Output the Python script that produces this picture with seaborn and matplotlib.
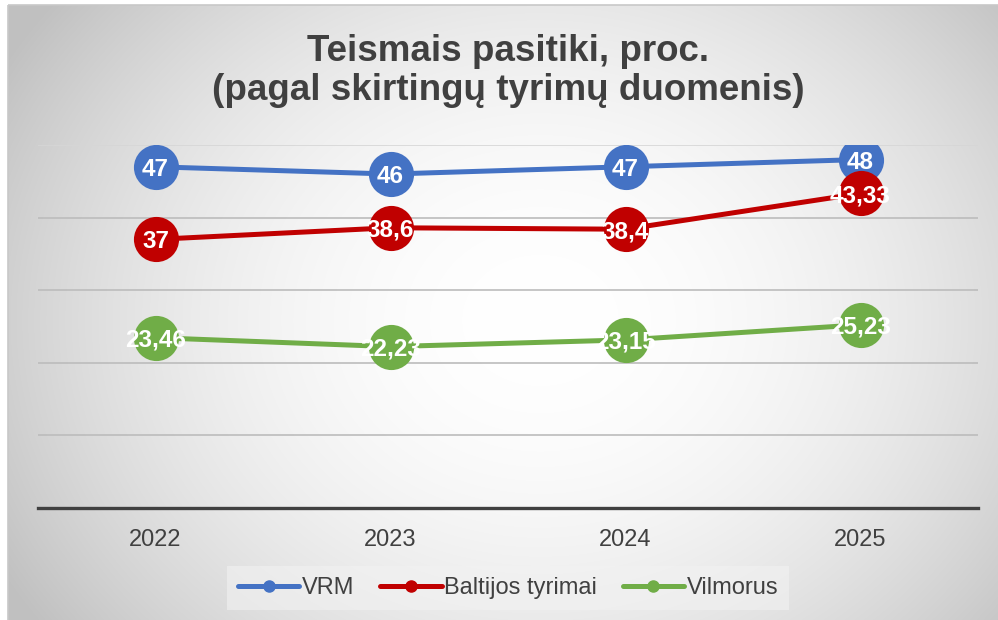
import numpy as np
import pandas as pd
import seaborn as sns
import matplotlib
matplotlib.use("Agg")
import matplotlib.pyplot as plt
from matplotlib.patches import Rectangle
from matplotlib.lines import Line2D

# ---- data ----
years = ["2022", "2023", "2024", "2025"]
series_names = ["VRM", "Baltijos tyrimai", "Vilmorus"]
vrm = [47, 46, 47, 48]
baltijos = [37, 38.6, 38.4, 43.33]
vilmorus = [23.46, 22.23, 23.15, 25.23]
colors = ["#4472C4", "#C00000", "#70AD47"]
title = "Teismais pasitiki, proc.\n(pagal skirtingų tyrimų duomenis)"

def fmt(v):
    s = f"{v:.2f}".rstrip("0").rstrip(".")
    return s.replace(".", ",")

rows = []
for name, vals in zip(series_names, [vrm, baltijos, vilmorus]):
    for i, (y, v) in enumerate(zip(years, vals)):
        rows.append({"pos": i, "year": y, "value": v, "series": name})
df = pd.DataFrame(rows)

sns.set_theme(style="white")
plt.rcParams["font.family"] = ["Liberation Sans", "DejaVu Sans"]

W, H = 998, 620
fig = plt.figure(figsize=(W / 100, H / 100), dpi=100)
fig.patch.set_facecolor("white")

# background radial gradient
bg = fig.add_axes([0, 0, 1, 1], zorder=-10)
xx, yy = np.meshgrid(np.arange(W), np.arange(H))
d2 = ((xx - 540) / 620.0) ** 2 + ((yy - 320) / 520.0) ** 2
d2 = np.clip(d2, 0, 1)
g = (255 - 63 * d2) / 255.0
img = np.dstack([g, g, g])
img[:5, :, :] = 1.0
img[:, :8, :] = 1.0
bg.imshow(img, extent=[0, W, H, 0], aspect="auto", interpolation="bilinear")
bg.set_xlim(0, W)
bg.set_ylim(H, 0)
bg.axis("off")
bg.add_patch(Rectangle((8, 5), W, H, fill=False, edgecolor="#c8c8c8", linewidth=1.2))

ax = fig.add_axes([38 / W, 1 - 508 / H, 940 / W, (508 - 145) / H])
ax.set_facecolor("none")

sns.lineplot(data=df, x="pos", y="value", hue="series", hue_order=series_names,
             palette=colors, marker="o", markersize=32.5, markeredgewidth=0,
             linewidth=3.6, legend=False, ax=ax, zorder=3)

for _, r in df.iterrows():
    ax.text(r["pos"], r["value"], fmt(r["value"]), ha="center", va="center_baseline",
            color="white", fontsize=17.5, fontweight="bold", zorder=10)

ax.set_xlim(-0.5, len(years) - 0.5)
ax.set_ylim(0, 50)
ax.set_yticks([0, 10, 20, 30, 40, 50])
ax.set_yticklabels([])
ax.tick_params(axis="y", length=0)
ax.set_xticks(range(len(years)))
ax.set_xticklabels(years, fontsize=17, color="#404040")
ax.tick_params(axis="x", length=0, pad=15)
ax.set_xlabel("")
ax.set_ylabel("")
ax.grid(axis="y", color="#bcbcbc", linewidth=1.2)
ax.grid(axis="x", visible=False)
gl = ax.get_ygridlines()
gl[-1].set_color("#d6d6d6")
for s in ["top", "right", "left"]:
    ax.spines[s].set_visible(False)
ax.spines["bottom"].set_color("#404040")
ax.spines["bottom"].set_linewidth(2.4)
ax.spines["bottom"].set_zorder(4)

fig.text(508 / W, 1 - 71 / H, title, ha="center", va="center", fontsize=26.5,
         fontweight="bold", color="#404040", linespacing=1.15)

handles = [Line2D([0], [0], color=c, linewidth=3.6, marker="o", markersize=8)
           for c in colors]
leg = fig.legend(handles, series_names, loc="center", bbox_to_anchor=(508 / W, 1 - 588 / H),
                 ncol=3, frameon=True, fontsize=17, handlelength=2.6, handletextpad=0.1,
                 columnspacing=1.1, borderpad=0.45, fancybox=False)
leg.get_frame().set_facecolor("#f2f2f2")
leg.get_frame().set_alpha(0.6)
leg.get_frame().set_edgecolor("none")
for t in leg.get_texts():
    t.set_color("#404040")

fig.savefig("out.png", dpi=100)
